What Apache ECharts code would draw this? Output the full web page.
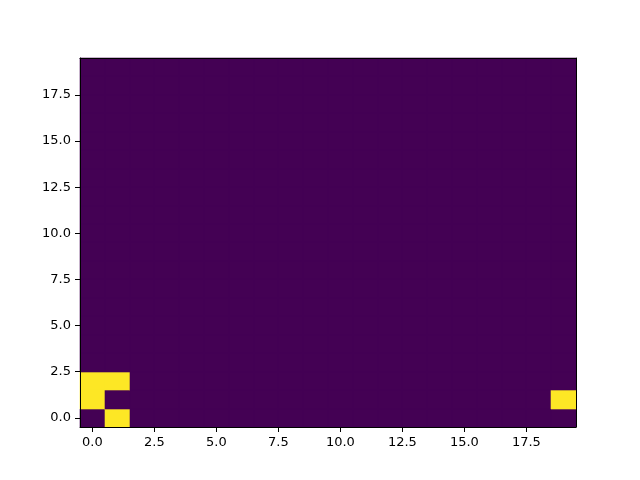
<!DOCTYPE html>
<html>
<head>
<meta charset="utf-8">
<script src="https://cdn.jsdelivr.net/npm/echarts@6/dist/echarts.min.js"></script>
<style>html,body{margin:0;padding:0;background:#fff}#c{width:640px;height:480px}</style>
</head>
<body>
<div id="c"></div>
<script>
var nCols = 20;
var nRows = 20;
// cells with value 1 (x, y); all other cells are 0
var highCells = [[1, 0], [0, 1], [19, 1], [0, 2], [1, 2]];
var tickValues = [0, 2.5, 5, 7.5, 10, 12.5, 15, 17.5];
var lowColor = '#440154';
var highColor = '#fde725';

var cells = [];
for (var y = 0; y < nRows; y++) {
  for (var x = 0; x < nCols; x++) {
    var v = 0;
    for (var k = 0; k < highCells.length; k++) {
      if (highCells[k][0] === x && highCells[k][1] === y) v = 1;
    }
    cells.push([x, y, v]);
  }
}

var chart = echarts.init(document.getElementById('c'), null, {renderer: 'canvas'});
var fmt = function (v) { return Number(v).toFixed(1); };
var labelStyle = {color: '#000', fontSize: 13, fontFamily: 'DejaVu Sans', margin: 9, formatter: fmt, customValues: tickValues, hideOverlap: false};
var tickStyle = {show: true, length: 5, inside: false, lineStyle: {color: '#000', width: 1}, customValues: tickValues};
var lineStyle = {show: true, onZero: false, lineStyle: {color: '#000', width: 1}};

chart.setOption({
  animation: false,
  grid: {left: 80, right: 64, top: 58, bottom: 53},
  xAxis: [
    {type: 'value', min: -0.5, max: 19.5, position: 'bottom', z: 10, axisLine: lineStyle, axisTick: tickStyle, axisLabel: labelStyle, splitLine: {show: false}},
    {type: 'value', min: -0.5, max: 19.5, position: 'top', z: 10, axisLine: lineStyle, axisTick: {show: false}, axisLabel: {show: false}, splitLine: {show: false}}
  ],
  yAxis: [
    {type: 'value', min: -0.5, max: 19.5, position: 'left', z: 10, axisLine: lineStyle, axisTick: tickStyle, axisLabel: labelStyle, splitLine: {show: false}},
    {type: 'value', min: -0.5, max: 19.5, position: 'right', z: 10, axisLine: lineStyle, axisTick: {show: false}, axisLabel: {show: false}, splitLine: {show: false}}
  ],
  series: [{
    type: 'custom',
    xAxisIndex: 0,
    yAxisIndex: 0,
    data: cells,
    z: 1,
    renderItem: function (params, api) {
      var x = api.value(0), y = api.value(1), v = api.value(2);
      var p0 = api.coord([x - 0.5, y + 0.5]);
      var p1 = api.coord([x + 0.5, y - 0.5]);
      var x0 = Math.round(p0[0]), y0 = Math.round(p0[1]);
      var x1 = Math.round(p1[0]), y1 = Math.round(p1[1]);
      return {
        type: 'rect',
        shape: {x: x0, y: y0, width: x1 - x0, height: y1 - y0},
        style: {fill: v ? highColor : lowColor, stroke: v ? highColor : lowColor, lineWidth: 0.6}
      };
    }
  }]
});
</script>
</body>
</html>
